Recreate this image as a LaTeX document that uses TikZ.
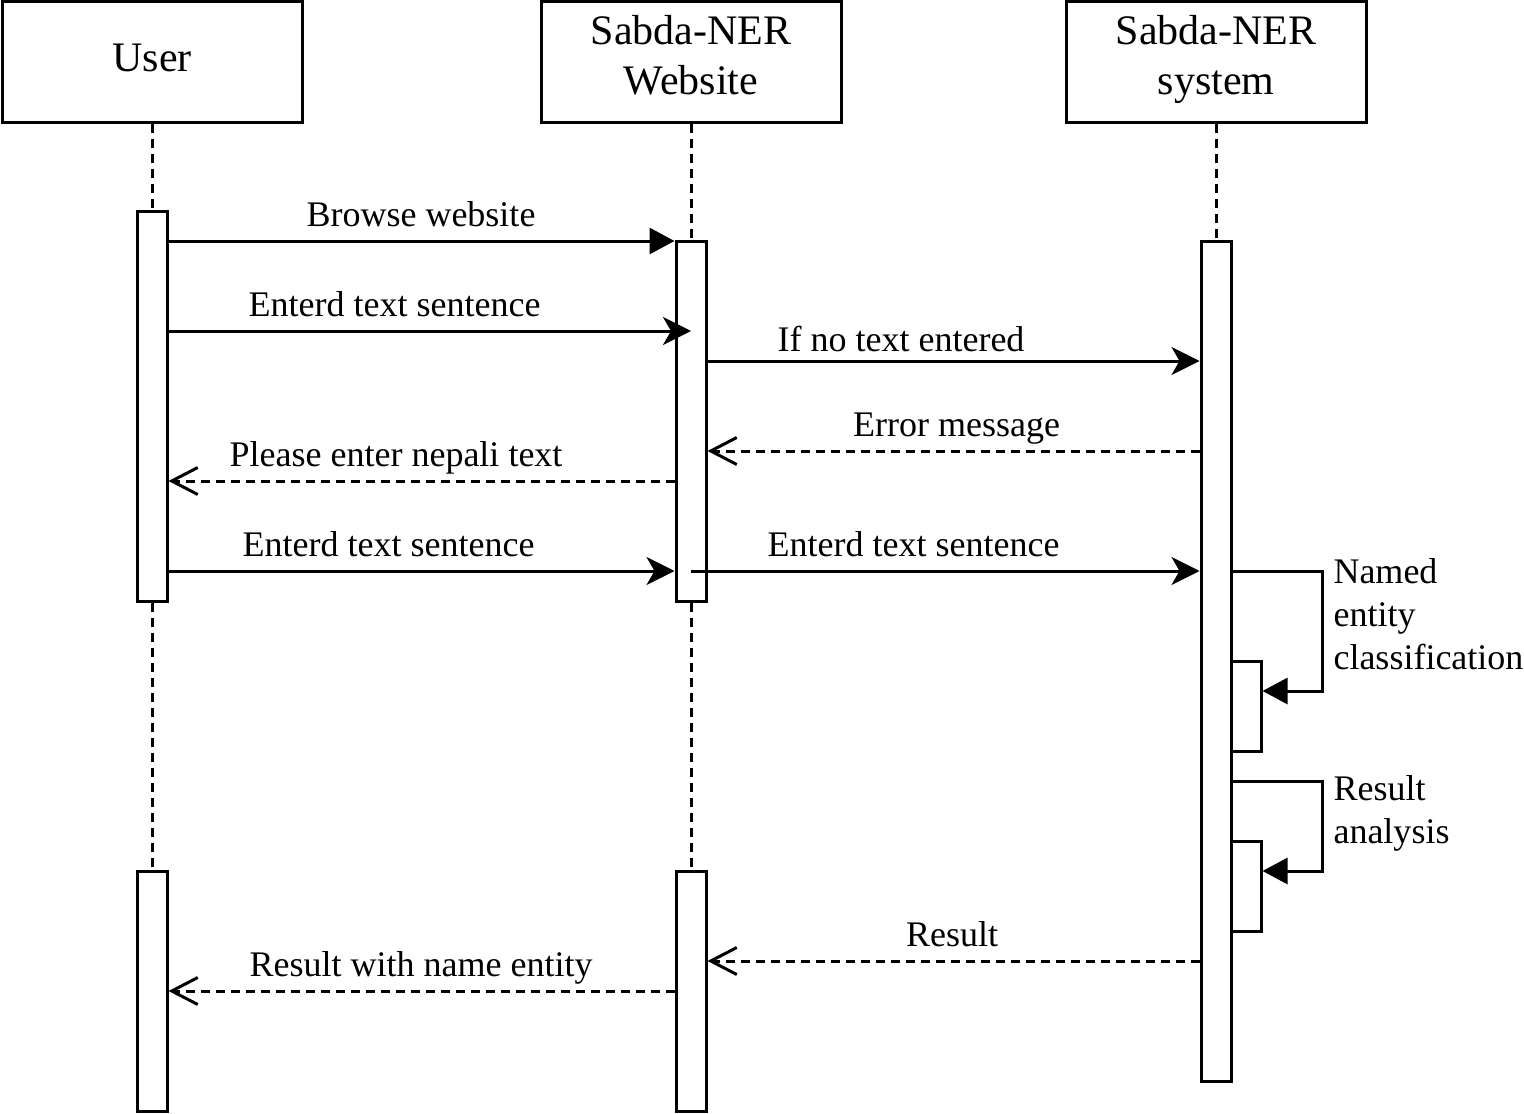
\documentclass[tikz,border=0pt]{standalone}
\usepackage{fontspec}
\setmainfont{Liberation Serif}
\usepackage{tikz}
\tikzset{every picture/.style={line width=1.5pt}}
\usetikzlibrary{arrows.meta}
\tikzset{
  head/.style={draw, fill=white, minimum width=150pt, minimum height=60pt, inner sep=0pt, align=center,
    font=\fontsize{21}{25}\selectfont, execute at begin node=\strut, execute at end node=\strut},
  headtwo/.style={head, execute at begin node={\rule{0pt}{21.5pt}}},
  act/.style={draw, fill=white, minimum width=15pt, inner sep=0pt},
  life/.style={dash pattern=on 4.5pt off 3pt},
  lbl/.style={anchor=base, inner sep=0pt, font=\fontsize{18}{21.6}\selectfont},
  note/.style={anchor=north west, inner sep=0pt, align=left, font=\fontsize{18}{21.6}\selectfont, execute at begin node=\strut},
  call/.style={-{Triangle[length=12.5pt,width=13pt]}},
  msg/.style={-{Stealth[length=14pt,width=14pt,inset=4pt]}},
  reply/.style={life, -{Straight Barb[length=13pt,width=13.5pt]}}
}

\begin{document}
\begin{tikzpicture}[x=0.5pt,y=0.5pt,yscale=-1,xscale=1]
\useasboundingbox (0,0) rectangle (1524,1113);

%Rows of the messages
\coordinate (r1) at (0,241);
\coordinate (r2) at (0,331);
\coordinate (r3) at (0,361);
\coordinate (r4) at (0,451);
\coordinate (r5) at (0,481);
\coordinate (r6) at (0,571);
\coordinate (r7) at (0,691);
\coordinate (r8) at (0,781);
\coordinate (r9) at (0,871);
\coordinate (r10) at (0,961);
\coordinate (r11) at (0,991);

%Heads
\node[head] (user) at (152,62) {User};
\node[headtwo] (web) at (691,62) {Sabda-NER\\Website};
\node[headtwo] (sys) at (1216,62) {Sabda-NER\\system};

%Activation boxes
\node[act, minimum height=195pt] (ua1) at (152,406) {};
\node[act, minimum height=120pt] (ua2) at (152,991) {};
\node[act, minimum height=180pt] (wa1) at (691,421) {};
\node[act, minimum height=120pt] (wa2) at (691,991) {};
\node[act, minimum height=420pt] (sa1) at (1216,661) {};
\node[act, minimum height=45pt] (sn1) at (1246,706) {};
\node[act, minimum height=45pt] (sn2) at (1246,886) {};

%Lifelines
\draw[life] (user) -- (ua1);
\draw[life] (ua1) -- (ua2);
\draw[life] (web) -- (wa1);
\draw[life] (wa1) -- (wa2);
\draw[life] (sys) -- (sa1);

%Messages
\draw[call] (ua1.east |- r1) -- (wa1.west |- r1);
\draw[msg] (ua1.east |- r2) -- (wa1.center |- r2);
\draw[msg] (wa1.east |- r3) -- (sa1.west |- r3);
\draw[reply] (sa1.west |- r4) -- (wa1.east |- r4);
\draw[reply] (wa1.west |- r5) -- (ua1.east |- r5);
\draw[msg] (ua1.east |- r6) -- (wa1.west |- r6);
\draw[msg] (wa1.center |- r6) -- (sa1.west |- r6);
\draw[call] (sa1.east |- r6) -- ++(90,0) |- (sn1.east |- r7);
\draw[call] (sa1.east |- r8) -- ++(90,0) |- (sn2.east |- r9);
\draw[reply] (sa1.west |- r10) -- (wa2.east |- r10);
\draw[reply] (wa2.west |- r11) -- (ua2.east |- r11);

% Text Node
\node[lbl] (t1) at (421,226) {Browse website};
\node[lbl] (t2) at (394.5,316) {Enterd text sentence};
\node[lbl] (t3) at (901,351) {If no text entered};
\node[lbl] (t4) at (956.5,436) {Error message};
\node[lbl] (t5) at (396,466) {Please enter nepali text};
\node[lbl] (t6) at (388.5,556) {Enterd text sentence};
\node[lbl] (t7) at (913.5,556) {Enterd text sentence};
\node[lbl] (t8) at (952,946) {Result};
\node[lbl] (t9) at (421,976) {Result with name entity};
\node[note] (n1) at (1332,557) {Named\\entity\\classification};
\node[note] (n2) at (1332,774) {Result\\analysis};
\end{tikzpicture}
\end{document}
